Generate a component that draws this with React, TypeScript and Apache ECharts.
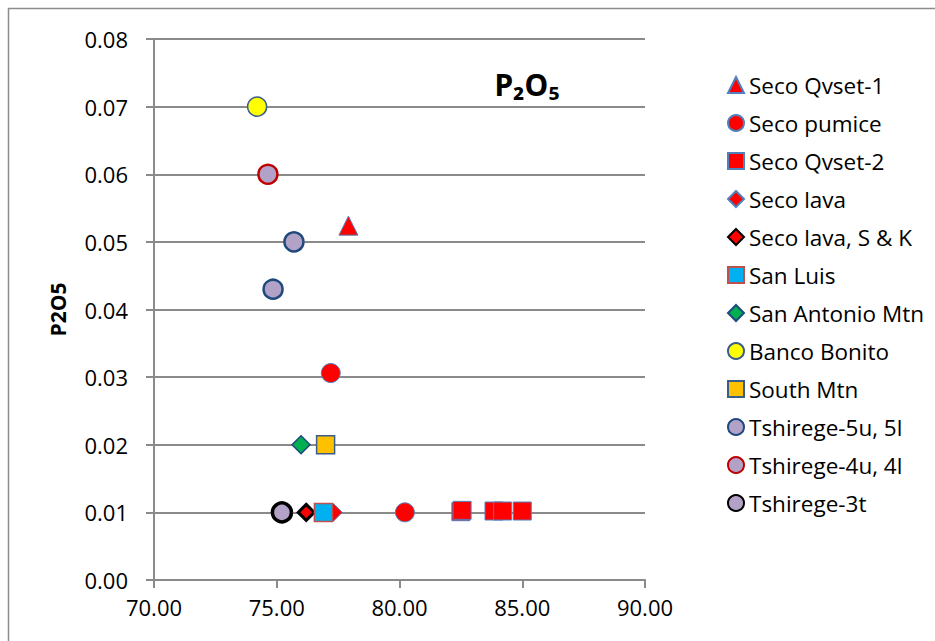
import { useEffect, useRef } from "react";
import * as echarts from "echarts";

const seriesNames = [
  "Seco Qvset-1",
  "Seco pumice",
  "Seco Qvset-2",
  "Seco lava",
  "Seco lava, S & K",
  "San Luis",
  "San Antonio Mtn",
  "Banco Bonito",
  "South Mtn",
  "Tshirege-5u, 5l",
  "Tshirege-4u, 4l",
  "Tshirege-3t",
];

const secoQvset1 = [[77.92, 0.0524]];
const secoPumice = [[77.2, 0.0306], [80.22, 0.01]];
const secoQvset2 = [[82.5, 0.0101], [82.55, 0.0103], [83.85, 0.0102], [84.2, 0.0102], [85.0, 0.0102]];
const secoLava = [[77.3, 0.01]];
const secoLavaSK = [[76.2, 0.01]];
const sanLuis = [[76.9, 0.01]];
const sanAntonio = [[75.99, 0.02]];
const bancoBonito = [[74.2, 0.07]];
const southMtn = [[76.99, 0.02]];
const tshirege5 = [[75.7, 0.05], [74.85, 0.043]];
const tshirege4 = [[74.64, 0.06]];
const tshirege3 = [[75.21, 0.01]];

const xTicks = [70, 75, 80, 85, 90];
const yTicks = [0, 0.01, 0.02, 0.03, 0.04, 0.05, 0.06, 0.07, 0.08];

const FONT = "Open Sans";
const GRID = "#8a8a8a";

export default function App() {
  const ref = useRef<HTMLDivElement>(null);
  useEffect(() => {
    if (!ref.current) return;
    const chart = echarts.init(ref.current, null, { renderer: "svg" });
    const mk = (
      name: string,
      data: number[][],
      symbol: string,
      size: number,
      color: string,
      borderColor: string,
      borderWidth: number
    ) => ({
      name,
      type: "scatter",
      data,
      symbol,
      symbolSize: size,
      itemStyle: { color, borderColor, borderWidth, opacity: 1 },
    });
    const series = [
      mk(seriesNames[0], secoQvset1, "triangle", 19, "#ff0000", "#4f81bd", 1),
      mk(seriesNames[1], secoPumice, "circle", 19, "#ff0000", "#4f81bd", 1),
      mk(seriesNames[2], secoQvset2, "rect", 18, "#ff0000", "#4f81bd", 1),
      mk(seriesNames[3], secoLava, "diamond", 18, "#ff0000", "#4f81bd", 1),
      mk(seriesNames[4], secoLavaSK, "diamond", 16, "#ff0000", "#000000", 3),
      mk(seriesNames[5], sanLuis, "rect", 18, "#00b0f0", "#c0504d", 1.5),
      mk(seriesNames[6], sanAntonio, "diamond", 18, "#00b050", "#1f497d", 1.5),
      mk(seriesNames[7], bancoBonito, "circle", 19, "#ffff00", "#385d8a", 1.5),
      mk(seriesNames[8], southMtn, "rect", 18, "#ffc000", "#385d8a", 1.5),
      mk(seriesNames[9], tshirege5, "circle", 19, "#b3a2c7", "#1f497d", 2.5),
      mk(seriesNames[10], tshirege4, "circle", 19, "#b3a2c7", "#c00000", 2.5),
      mk(seriesNames[11], tshirege3, "circle", 19, "#b3a2c7", "#000000", 3.5),
    ];
    chart.setOption({
      animation: false,
      backgroundColor: "#ffffff",
      textStyle: { fontFamily: FONT },
      grid: { left: 154, top: 39, right: 290, bottom: 61, containLabel: false },
      graphic: [
        {
          type: "rect",
          shape: { x: 8.5, y: 8.5, width: 960, height: 660 },
          style: { fill: "none", stroke: "#8c8c8c", lineWidth: 1.5 },
          silent: true,
        },
        {
          type: "text",
          x: 527,
          y: 84,
          style: {
            text: "P₂O₅",
            font: "bold 30px 'Noto Sans'",
            fill: "#000",
            textAlign: "center",
            textVerticalAlign: "middle",
          },
        },
      ],
      legend: {
        orient: "vertical",
        left: 727,
        top: 73,
        padding: 0,
        itemWidth: 16,
        itemHeight: 16,
        itemGap: 14,
        data: seriesNames,
        textStyle: { fontFamily: FONT, fontSize: 22.5, color: "#000", lineHeight: 24 },
        selectedMode: false,
      },
      xAxis: {
        type: "value",
        min: xTicks[0],
        max: xTicks[xTicks.length - 1],
        interval: 5,
        axisLine: { show: true, onZero: false, lineStyle: { color: GRID, width: 2 } },
        axisTick: { show: true, inside: false, length: 8, lineStyle: { color: GRID, width: 2 } },
        splitLine: { show: false },
        axisLabel: {
          margin: 16,
          fontFamily: FONT,
          fontSize: 22,
          color: "#000",
          formatter: (v: number) => v.toFixed(2),
        },
      },
      yAxis: {
        type: "value",
        min: yTicks[0],
        max: yTicks[yTicks.length - 1],
        interval: 0.01,
        name: "P2O5",
        nameLocation: "middle",
        nameGap: 86,
        nameRotate: 90,
        nameTextStyle: { fontFamily: FONT, fontSize: 21, fontWeight: "bold", color: "#000" },
        axisLine: { show: true, onZero: false, lineStyle: { color: GRID, width: 2 } },
        axisTick: { show: true, inside: false, length: 8, lineStyle: { color: GRID, width: 2 } },
        splitLine: { show: true, lineStyle: { color: GRID, width: 2 } },
        axisLabel: {
          margin: 26,
          fontFamily: FONT,
          fontSize: 22,
          color: "#000",
          formatter: (v: number) => v.toFixed(2),
        },
      },
      series,
    });
    return () => chart.dispose();
  }, []);
  return (
    <div
      ref={ref}
      style={{ position: "fixed", left: 0, top: 0, width: 935, height: 641 }}
    />
  );
}
